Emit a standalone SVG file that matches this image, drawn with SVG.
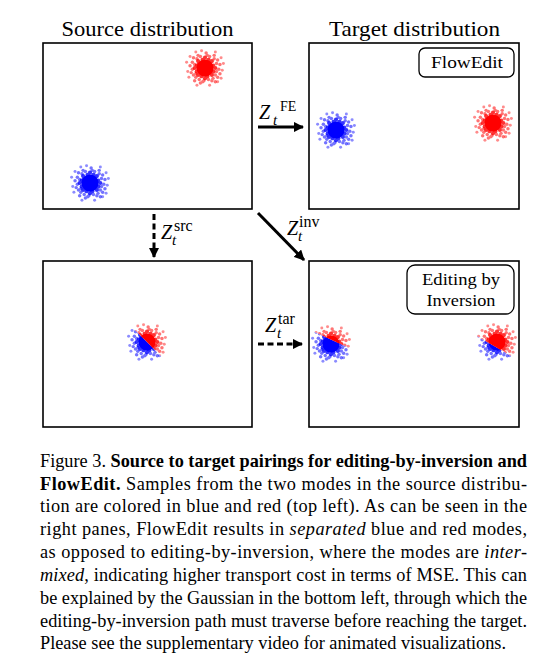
<svg xmlns="http://www.w3.org/2000/svg" width="542" height="663" viewBox="0 0 542 663">
  <style>
    text { font-family: "Liberation Serif", "Times New Roman", serif; fill: #000; }
    .panel { fill: #ffffff; stroke: #000000; stroke-width: 1.6; }
    .title { font-size: 21px; text-anchor: middle; }
    .tag { fill: #ffffff; stroke: #000000; stroke-width: 1.3; }
    .tagtext { font-size: 17px; text-anchor: middle; }
    .solid { stroke: #000; stroke-width: 3; fill: none; }
    .dashed { stroke: #000; stroke-width: 3; fill: none; stroke-dasharray: 6 3.5; }
    .mi { font-style: italic; font-size: 20px; }
    .sup { font-size: 16px; }
    .supfe { font-size: 14px; }
    .sub { font-style: italic; font-size: 15px; }
    .cap { font-size: 18.3px; }
    .b { font-weight: bold; }
    .i { font-style: italic; }
    .red { fill: #ff0000; }
    .blue { fill: #0000ff; }
  </style>
  <defs>
    <marker id="head" viewBox="0 0 10 10" refX="9" refY="5" markerWidth="3.5" markerHeight="3.5" orient="auto" markerUnits="strokeWidth">
      <path d="M0,0 L10,5 L0,10 Z" fill="#000"/>
    </marker>
    <!-- one sample cloud: dense core plus scattered points, colour taken from the use element -->
    <g id="cloud" transform="scale(1.15)">
      <circle r="7.5" opacity="1"/>
      <g opacity="0.8">
        <circle cx="-5" cy="-4" r="2"/><circle cx="4" cy="-5" r="2"/><circle cx="5" cy="4" r="2"/><circle cx="-4" cy="5" r="2"/>
        <circle cx="-7" cy="-2" r="2"/><circle cx="-7" cy="3" r="2"/><circle cx="-2" cy="-7" r="2"/><circle cx="3" cy="-7" r="2"/>
        <circle cx="7" cy="-2" r="2"/><circle cx="7" cy="3" r="2"/><circle cx="2" cy="7" r="2"/><circle cx="-3" cy="7" r="2"/>
        <circle cx="-6" cy="-6" r="1.8"/><circle cx="6" cy="-6" r="1.8"/><circle cx="6" cy="6" r="1.8"/><circle cx="-6" cy="6" r="1.8"/>
        <circle cx="-9" cy="0" r="1.8"/><circle cx="9" cy="0" r="1.8"/><circle cx="0" cy="-9" r="1.8"/><circle cx="0" cy="9" r="1.8"/>
      </g>
      <g opacity="0.55">
        <circle cx="-9" cy="-3" r="1.5"/><circle cx="-8" cy="5" r="1.5"/><circle cx="-10" cy="6" r="1.5"/><circle cx="-7" cy="-8" r="1.5"/>
        <circle cx="-4" cy="-10" r="1.5"/><circle cx="4" cy="-10" r="1.5"/><circle cx="8" cy="-8" r="1.5"/>
        <circle cx="10" cy="-4" r="1.5"/><circle cx="10" cy="3" r="1.5"/><circle cx="9" cy="6" r="1.5"/><circle cx="7" cy="9" r="1.5"/>
        <circle cx="3" cy="10" r="1.5"/><circle cx="-1" cy="11" r="1.5"/><circle cx="-5" cy="10" r="1.5"/><circle cx="-8" cy="8" r="1.5"/>
        <circle cx="-11" cy="1" r="1.5"/><circle cx="-11" cy="-5" r="1.5"/><circle cx="-6" cy="-11" r="1.5"/><circle cx="2" cy="-11" r="1.5"/>
        <circle cx="8" cy="-11" r="1.5"/><circle cx="11" cy="-7" r="1.5"/><circle cx="12" cy="1" r="1.5"/><circle cx="11" cy="8" r="1.5"/>
        <circle cx="6" cy="11" r="1.5"/><circle cx="-2" cy="12" r="1.5"/><circle cx="-9" cy="11" r="1.5"/><circle cx="-12" cy="4" r="1.5"/>
        <circle cx="-10" cy="-9" r="1.5"/><circle cx="-13" cy="-2" r="1.5"/><circle cx="13" cy="-3" r="1.5"/>
        <circle cx="13" cy="5" r="1.5"/><circle cx="9" cy="12" r="1.5"/><circle cx="-4" cy="13" r="1.5"/><circle cx="1" cy="-13" r="1.5"/>
      </g>
      <g opacity="0.45">
        <circle cx="-15" cy="3" r="1.3"/><circle cx="-3" cy="-15" r="1.3"/><circle cx="14" cy="-9" r="1.3"/><circle cx="4" cy="15" r="1.3"/>
        <circle cx="-13" cy="-10" r="1.3"/><circle cx="15" cy="2" r="1.3"/><circle cx="11" cy="12" r="1.3"/><circle cx="-14" cy="8" r="1.3"/>
        <circle cx="16" cy="-4" r="1.3"/><circle cx="-16" cy="-5" r="1.3"/><circle cx="-7" cy="15" r="1.3"/>
        <circle cx="9" cy="-14" r="1.3"/><circle cx="-8" cy="-14" r="1.3"/><circle cx="14" cy="9" r="1.3"/>
      </g>
    </g>
    <!-- half-plane clips in the local frame of each mixed cloud -->
    <clipPath id="bl-red"><rect x="-40" y="-40" width="80" height="40" transform="rotate(45)"/></clipPath>
    <clipPath id="bl-blue"><rect x="-40" y="0" width="80" height="40" transform="rotate(45)"/></clipPath>
    <clipPath id="m1-red"><rect x="-40" y="-40" width="80" height="36" transform="rotate(25)"/></clipPath>
    <clipPath id="m1-blue"><rect x="-40" y="-4" width="80" height="44" transform="rotate(25)"/></clipPath>
    <clipPath id="m2-red"><rect x="-40" y="-40" width="80" height="45" transform="rotate(30)"/></clipPath>
    <clipPath id="m2-blue"><rect x="-40" y="5" width="80" height="35" transform="rotate(30)"/></clipPath>
  </defs>

  <rect width="542" height="663" fill="#ffffff"/>

  <text class="title" x="147.5" y="36" textLength="172" lengthAdjust="spacingAndGlyphs">Source distribution</text>
  <text class="title" x="414.5" y="36" textLength="171" lengthAdjust="spacingAndGlyphs">Target distribution</text>

  <!-- source distribution -->
  <g id="source">
    <rect class="panel" x="43" y="43" width="209" height="166"/>
    <use href="#cloud" class="red" x="205" y="68"/>
    <use href="#cloud" class="blue" x="90" y="183"/>
  </g>

  <!-- FlowEdit result -->
  <g id="flowedit">
    <rect class="panel" x="309" y="43" width="210" height="166"/>
    <rect class="tag" x="419" y="48" width="95" height="29" rx="6"/>
    <text class="tagtext" x="467" y="68" textLength="72" lengthAdjust="spacingAndGlyphs">FlowEdit</text>
    <use href="#cloud" class="blue" x="336" y="130"/>
    <use href="#cloud" class="red" x="493" y="123"/>
  </g>

  <!-- intermediate Gaussian -->
  <g id="gaussian">
    <rect class="panel" x="43" y="261" width="209" height="166"/>
    <g transform="translate(147,342)">
      <use href="#cloud" class="blue" clip-path="url(#bl-blue)"/>
      <use href="#cloud" class="red" clip-path="url(#bl-red)"/>
    </g>
  </g>

  <!-- editing by inversion result -->
  <g id="inversion">
    <rect class="panel" x="309" y="261" width="210" height="166"/>
    <rect class="tag" x="407" y="265" width="107" height="49" rx="8"/>
    <text class="tagtext" x="461" y="285" textLength="78" lengthAdjust="spacingAndGlyphs">Editing by</text>
    <text class="tagtext" x="461" y="306" textLength="69" lengthAdjust="spacingAndGlyphs">Inversion</text>
    <g transform="translate(331,344)">
      <use href="#cloud" class="blue" clip-path="url(#m1-blue)"/>
      <use href="#cloud" class="red" clip-path="url(#m1-red)"/>
    </g>
    <g transform="translate(497,342)">
      <use href="#cloud" class="blue" clip-path="url(#m2-blue)"/>
      <use href="#cloud" class="red" clip-path="url(#m2-red)"/>
    </g>
  </g>

  <!-- transport maps -->
  <g id="connectors">
    <line class="solid" x1="258" y1="127" x2="303" y2="127" marker-end="url(#head)"/>
    <line class="dashed" x1="154" y1="214" x2="154" y2="257" marker-end="url(#head)"/>
    <line class="solid" x1="258" y1="213" x2="304" y2="260" marker-end="url(#head)"/>
    <line class="dashed" x1="258" y1="344" x2="302" y2="344" marker-end="url(#head)"/>

    <text x="259" y="119"><tspan class="mi">Z</tspan><tspan class="supfe" x="280" y="111">FE</tspan><tspan class="sub" x="273" y="125">t</tspan></text>
    <text x="161" y="239"><tspan class="mi">Z</tspan><tspan class="sup" x="174" y="231">src</tspan><tspan class="sub" x="172" y="245">t</tspan></text>
    <text x="287" y="235"><tspan class="mi">Z</tspan><tspan class="sup" x="299" y="227">inv</tspan><tspan class="sub" x="298" y="241">t</tspan></text>
    <text x="265" y="332"><tspan class="mi">Z</tspan><tspan class="sup" x="278" y="324">tar</tspan><tspan class="sub" x="277" y="338">t</tspan></text>
  </g>

  <!-- caption -->
  <g id="caption">
    <text class="cap" x="40" y="467" textLength="487" lengthAdjust="spacing">Figure 3. <tspan class="b">Source to target pairings for editing-by-inversion and</tspan></text>
    <text class="cap" x="40" y="490" textLength="487" lengthAdjust="spacing"><tspan class="b">FlowEdit.</tspan>  Samples from the two modes in the source distribu-</text>
    <text class="cap" x="40" y="512" textLength="487" lengthAdjust="spacing">tion are colored in blue and red (top left).  As can be seen in the</text>
    <text class="cap" x="40" y="535" textLength="487" lengthAdjust="spacing">right panes, FlowEdit results in <tspan class="i">separated</tspan> blue and red modes,</text>
    <text class="cap" x="40" y="558" textLength="487" lengthAdjust="spacing">as opposed to editing-by-inversion, where the modes are <tspan class="i">inter-</tspan></text>
    <text class="cap" x="40" y="581" textLength="487" lengthAdjust="spacing"><tspan class="i">mixed</tspan>, indicating higher transport cost in terms of MSE. This can</text>
    <text class="cap" x="40" y="604" textLength="487" lengthAdjust="spacing">be explained by the Gaussian in the bottom left, through which the</text>
    <text class="cap" x="40" y="627" textLength="487" lengthAdjust="spacing">editing-by-inversion path must traverse before reaching the target.</text>
    <text class="cap" x="40" y="649">Please see the supplementary video for animated visualizations.</text>
  </g>
</svg>
